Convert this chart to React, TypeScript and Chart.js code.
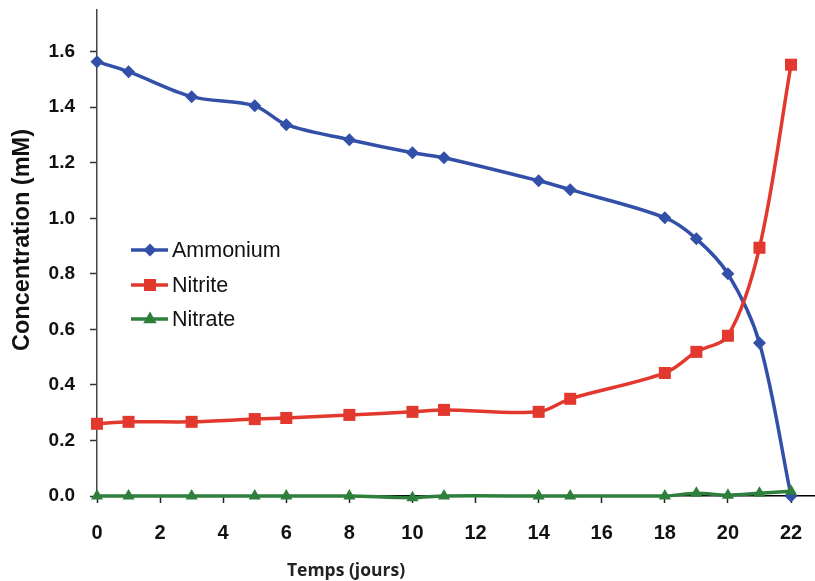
import React, { useEffect, useRef } from 'react';
import { Chart, registerables } from 'chart.js';

Chart.register(...registerables);

// ---- data ----
const days = [0, 1, 3, 5, 6, 8, 10, 11, 14, 15, 18, 19, 20, 21, 22];
const ammonium = [1.564, 1.528, 1.438, 1.405, 1.337, 1.283, 1.236, 1.218, 1.135, 1.103, 1.002, 0.926, 0.8, 0.551, 0.0];
const nitrite = [0.26, 0.267, 0.267, 0.277, 0.281, 0.292, 0.303, 0.31, 0.303, 0.35, 0.443, 0.519, 0.577, 0.894, 1.553];
const nitrate = [0, 0, 0, 0, 0, 0, -0.006, 0, 0, 0, 0, 0.01, 0.003, 0.01, 0.017];
const xTickValues = [0, 2, 4, 6, 8, 10, 12, 14, 16, 18, 20, 22];
const yTickValues = [0, 0.2, 0.4, 0.6, 0.8, 1.0, 1.2, 1.4, 1.6];
const seriesNames = ['Ammonium', 'Nitrite', 'Nitrate'];
const seriesColors = ['#3350A8', '#E2382E', '#2E7F3C'];
const seriesMarkers = ['rectRot', 'rect', 'triangle'];
const xTitle = 'Temps (jours)';
const yTitle = 'Concentration (mM)';

const W = 815;
const H = 581;

function drawMarker(ctx: CanvasRenderingContext2D, style: string, x: number, y: number) {
  ctx.beginPath();
  if (style === 'rectRot') {
    const r = 6.5;
    ctx.moveTo(x, y - r);
    ctx.lineTo(x + r, y);
    ctx.lineTo(x, y + r);
    ctx.lineTo(x - r, y);
  } else if (style === 'rect') {
    const s = 6;
    ctx.rect(x - s, y - s, 2 * s, 2 * s);
  } else {
    const r = 7.5;
    ctx.moveTo(x, y - r);
    ctx.lineTo(x + r * 0.9, y + r * 0.55);
    ctx.lineTo(x - r * 0.9, y + r * 0.55);
  }
  ctx.closePath();
  ctx.fill();
}

const titlesAndLegend = {
  id: 'titlesAndLegend',
  afterDraw(chart: any) {
    const ctx: CanvasRenderingContext2D = chart.ctx;
    ctx.save();
    // y title
    ctx.translate(23, 240);
    ctx.rotate(-Math.PI / 2);
    ctx.fillStyle = '#111';
    ctx.font = 'bold 23.5px "Liberation Sans", Arial, sans-serif';
    ctx.textAlign = 'center';
    ctx.textBaseline = 'middle';
    ctx.fillText(yTitle, 0, 0);
    ctx.restore();

    ctx.save();
    ctx.fillStyle = '#222';
    ctx.font = 'bold 17.5px "Open Sans", sans-serif';
    ctx.textAlign = 'center';
    ctx.textBaseline = 'middle';
    ctx.fillText(xTitle, 346, 571);
    ctx.restore();

    // legend
    const rows = [250, 285, 319];
    seriesNames.forEach((name, i) => {
      const y = rows[i];
      ctx.save();
      ctx.strokeStyle = seriesColors[i];
      ctx.fillStyle = seriesColors[i];
      ctx.lineWidth = 3.5;
      ctx.beginPath();
      ctx.moveTo(131, y);
      ctx.lineTo(168, y);
      ctx.stroke();
      drawMarker(ctx, seriesMarkers[i], 150, y);
      ctx.fillStyle = '#111';
      ctx.font = '21.5px "Liberation Sans", Arial, sans-serif';
      ctx.textAlign = 'left';
      ctx.textBaseline = 'middle';
      ctx.fillText(name, 172, y + 1);
      ctx.restore();
    });
  },
};

export default function App() {
  const ref = useRef<HTMLCanvasElement>(null);

  useEffect(() => {
    if (!ref.current) return;
    const series = [ammonium, nitrite, nitrate];
    const chart = new Chart(ref.current, {
      type: 'line',
      data: {
        datasets: series.map((vals, i) => ({
          label: seriesNames[i],
          data: days.map((d, j) => ({ x: d, y: vals[j] })),
          borderColor: seriesColors[i],
          backgroundColor: seriesColors[i],
          borderWidth: 3.5,
          pointStyle: seriesMarkers[i] as any,
          pointRadius: i === 0 ? 6.5 : i === 1 ? 8.5 : 7,
          pointBorderWidth: 0,
          tension: 0.33,
          clip: false as any,
          order: 2 - i,
        })),
      },
      options: {
        responsive: false,
        animation: false,
        events: [],
        layout: { autoPadding: false, padding: { top: 10, left: 0, right: 0, bottom: 0 } },
        plugins: { legend: { display: false }, tooltip: { enabled: false }, title: { display: false } },
        scales: {
          x: {
            type: 'linear',
            min: 0,
            max: 22.76,
            afterBuildTicks: (scale: any) => {
              scale.ticks = xTickValues.map((v) => ({ value: v }));
            },
            afterFit: (scale: any) => {
              scale.height = H - 496;
              scale.paddingLeft = 0;
              scale.paddingRight = 0;
            },
            ticks: {
              color: '#111',
              font: { family: '"Liberation Sans", Arial, sans-serif', size: 20, weight: 'bold' },
              padding: 18,
              maxRotation: 0,
              callback: (v: any) => String(v),
            },
            grid: { drawOnChartArea: false, drawTicks: true, tickLength: 7, tickColor: '#222', tickWidth: 1.5 },
            border: { display: true, color: '#000', width: 1.5 },
          },
          y: {
            type: 'linear',
            min: 0,
            max: 1.75,
            afterBuildTicks: (scale: any) => {
              scale.ticks = yTickValues.map((v) => ({ value: v }));
            },
            afterFit: (scale: any) => {
              scale.width = 97;
              scale.paddingTop = 0;
              scale.paddingBottom = 0;
            },
            ticks: {
              color: '#111',
              font: { family: '"Liberation Sans", Arial, sans-serif', size: 19, weight: 'bold' },
              padding: 15,
              callback: (v: any) => Number(v).toFixed(1),
            },
            grid: { drawOnChartArea: false, drawTicks: true, tickLength: 7, tickColor: '#333', tickWidth: 1.5 },
            border: { display: true, color: '#444', width: 1.5 },
          },
        },
      } as any,
      plugins: [titlesAndLegend],
    });
    return () => chart.destroy();
  }, []);

  return (
    <div style={{ position: 'absolute', left: 0, top: 0, width: W, height: H, background: '#fff' }}>
      <canvas ref={ref} width={W} height={H} style={{ display: 'block' }} />
    </div>
  );
}
